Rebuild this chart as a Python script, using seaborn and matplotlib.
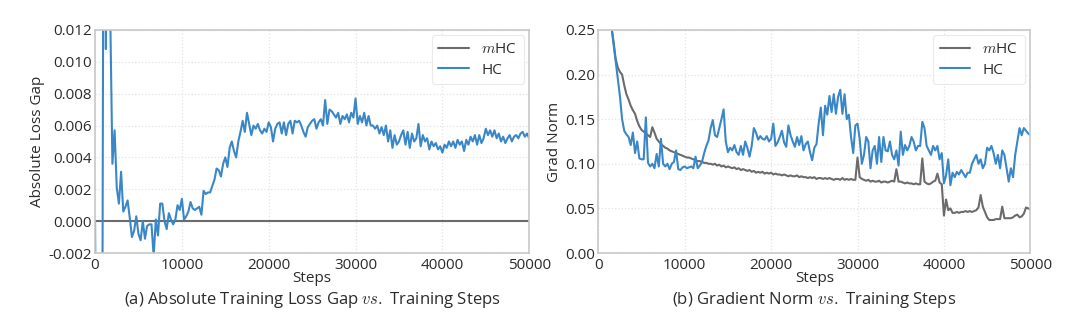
import numpy as np
import pandas as pd
import matplotlib
matplotlib.use("Agg")
import matplotlib.pyplot as plt
import seaborn as sns

# ---------------- data ----------------
# (a) absolute training loss gap, HC relative to mHC, logged every 250 steps from step 0
gap_start, gap_every = 0, 250
hc_gap = [
    0.0000, -0.0200, -0.0300, -0.0300, 0.0300, 0.0108, 0.0300, 0.0130,
    0.0036, 0.0057, 0.0021, 0.0011, 0.0031, 0.0006, 0.0009, 0.0013,
    0.0002, -0.0010, -0.0006, 0.0003, -0.0008, -0.0012, 0.0000, -0.0011,
    -0.0003, -0.0002, -0.0002, -0.0022, 0.0001, -0.0009, 0.0011, 0.0011,
    0.0000, -0.0005, 0.0005, 0.0001, -0.0002, 0.0001, 0.0010, 0.0007,
    0.0014, 0.0001, 0.0003, 0.0006, 0.0012, 0.0008, 0.0007, 0.0008,
    0.0009, 0.0004, 0.0019, 0.0017, 0.0018, 0.0018, 0.0022, 0.0026,
    0.0033, 0.0032, 0.0028, 0.0036, 0.0040, 0.0034, 0.0046, 0.0050,
    0.0044, 0.0040, 0.0050, 0.0056, 0.0063, 0.0056, 0.0068, 0.0061,
    0.0054, 0.0060, 0.0058, 0.0061, 0.0057, 0.0055, 0.0058, 0.0056,
    0.0062, 0.0059, 0.0050, 0.0058, 0.0061, 0.0062, 0.0055, 0.0062,
    0.0054, 0.0061, 0.0063, 0.0055, 0.0063, 0.0062, 0.0063, 0.0060,
    0.0056, 0.0053, 0.0059, 0.0061, 0.0063, 0.0064, 0.0058, 0.0062,
    0.0064, 0.0060, 0.0076, 0.0061, 0.0070, 0.0069, 0.0067, 0.0065,
    0.0068, 0.0061, 0.0066, 0.0064, 0.0067, 0.0062, 0.0068, 0.0065,
    0.0077, 0.0061, 0.0066, 0.0062, 0.0068, 0.0060, 0.0066, 0.0060,
    0.0060, 0.0058, 0.0060, 0.0055, 0.0059, 0.0054, 0.0060, 0.0050,
    0.0057, 0.0046, 0.0054, 0.0048, 0.0050, 0.0054, 0.0057, 0.0048,
    0.0056, 0.0046, 0.0055, 0.0050, 0.0052, 0.0061, 0.0047, 0.0054,
    0.0050, 0.0052, 0.0045, 0.0050, 0.0047, 0.0049, 0.0045, 0.0047,
    0.0043, 0.0048, 0.0046, 0.0050, 0.0047, 0.0050, 0.0046, 0.0051,
    0.0048, 0.0050, 0.0044, 0.0051, 0.0048, 0.0053, 0.0050, 0.0054,
    0.0048, 0.0054, 0.0049, 0.0052, 0.0058, 0.0054, 0.0057, 0.0053,
    0.0057, 0.0052, 0.0055, 0.0050, 0.0053, 0.0049, 0.0052, 0.0054,
    0.0050, 0.0053, 0.0054, 0.0052, 0.0055, 0.0056, 0.0053, 0.0055,
    0.0052,
]
# mHC is the reference: its gap to itself is zero
mhc_gap_steps = [0, 50000]
mhc_gap = [0.0, 0.0]

# (b) gradient norm, logged every 250 steps from step 1000
gn_start, gn_every = 1000, 250
hc_gn = [
    0.320, 0.280, 0.255, 0.235, 0.215, 0.195, 0.176, 0.150,
    0.137, 0.133, 0.130, 0.121, 0.135, 0.112, 0.125, 0.106,
    0.105, 0.105, 0.152, 0.101, 0.097, 0.100, 0.095, 0.111,
    0.097, 0.128, 0.100, 0.097, 0.100, 0.094, 0.100, 0.102,
    0.115, 0.094, 0.093, 0.096, 0.097, 0.095, 0.096, 0.097,
    0.095, 0.108, 0.095, 0.098, 0.102, 0.112, 0.120, 0.126,
    0.140, 0.149, 0.132, 0.130, 0.140, 0.150, 0.161, 0.125,
    0.113, 0.118, 0.115, 0.121, 0.113, 0.110, 0.120, 0.110,
    0.125, 0.118, 0.108, 0.120, 0.140, 0.135, 0.127, 0.131,
    0.128, 0.127, 0.131, 0.125, 0.128, 0.145, 0.120, 0.124,
    0.130, 0.137, 0.124, 0.119, 0.143, 0.132, 0.125, 0.119,
    0.130, 0.121, 0.131, 0.115, 0.122, 0.125, 0.113, 0.104,
    0.118, 0.122, 0.145, 0.163, 0.132, 0.165, 0.155, 0.176,
    0.158, 0.178, 0.156, 0.175, 0.183, 0.156, 0.178, 0.150,
    0.155, 0.130, 0.112, 0.143, 0.145, 0.128, 0.100, 0.110,
    0.130, 0.125, 0.095, 0.115, 0.120, 0.100, 0.130, 0.102,
    0.130, 0.115, 0.114, 0.125, 0.110, 0.105, 0.115, 0.098,
    0.136, 0.110, 0.121, 0.115, 0.120, 0.130, 0.125, 0.115,
    0.120, 0.120, 0.147, 0.140, 0.120, 0.115, 0.110, 0.120,
    0.115, 0.120, 0.105, 0.112, 0.078, 0.087, 0.105, 0.076,
    0.090, 0.085, 0.091, 0.088, 0.093, 0.089, 0.085, 0.090,
    0.090, 0.100, 0.105, 0.110, 0.100, 0.105, 0.095, 0.100,
    0.118, 0.115, 0.120, 0.112, 0.100, 0.110, 0.095, 0.115,
    0.110, 0.095, 0.080, 0.095, 0.085, 0.110, 0.125, 0.140,
    0.132, 0.140, 0.137, 0.134, 0.132,
]
mhc_gn = [
    0.320, 0.280, 0.255, 0.238, 0.218, 0.208, 0.203, 0.200,
    0.188, 0.178, 0.172, 0.165, 0.160, 0.156, 0.148, 0.142,
    0.138, 0.136, 0.134, 0.132, 0.130, 0.141, 0.135, 0.128,
    0.125, 0.122, 0.120, 0.118, 0.117, 0.115, 0.114, 0.113,
    0.112, 0.111, 0.110, 0.109, 0.108, 0.107, 0.107, 0.106,
    0.105, 0.104, 0.103, 0.103, 0.102, 0.101, 0.101, 0.100,
    0.100, 0.099, 0.100, 0.098, 0.099, 0.097, 0.098, 0.096,
    0.097, 0.096, 0.095, 0.096, 0.094, 0.095, 0.093, 0.094,
    0.093, 0.092, 0.093, 0.091, 0.092, 0.090, 0.091, 0.090,
    0.091, 0.089, 0.090, 0.089, 0.090, 0.088, 0.089, 0.088,
    0.088, 0.087, 0.088, 0.087, 0.086, 0.087, 0.086, 0.086,
    0.087, 0.085, 0.086, 0.085, 0.085, 0.084, 0.085, 0.084,
    0.085, 0.083, 0.084, 0.084, 0.083, 0.084, 0.083, 0.084,
    0.083, 0.082, 0.083, 0.083, 0.082, 0.084, 0.082, 0.083,
    0.082, 0.083, 0.082, 0.082, 0.107, 0.085, 0.083, 0.082,
    0.081, 0.082, 0.080, 0.081, 0.080, 0.080, 0.081, 0.079,
    0.080, 0.080, 0.079, 0.080, 0.081, 0.080, 0.094, 0.080,
    0.080, 0.079, 0.078, 0.079, 0.078, 0.078, 0.077, 0.078,
    0.077, 0.077, 0.106, 0.080, 0.078, 0.077, 0.078, 0.080,
    0.081, 0.089, 0.079, 0.077, 0.042, 0.060, 0.048, 0.050,
    0.045, 0.045, 0.046, 0.045, 0.046, 0.046, 0.047, 0.046,
    0.047, 0.046, 0.047, 0.048, 0.051, 0.065, 0.052, 0.046,
    0.040, 0.037, 0.037, 0.037, 0.038, 0.038, 0.038, 0.052,
    0.039, 0.039, 0.039, 0.039, 0.040, 0.042, 0.043, 0.040,
    0.041, 0.044, 0.051, 0.050, 0.049,
]

labels = ["$m$HC", "HC"]
captions = ["(a) Absolute Training Loss Gap $vs.$ Training Steps",
            "(b) Gradient Norm $vs.$ Training Steps"]
ylabels = ["Absolute Loss Gap", "Grad Norm"]
xticks = [0, 10000, 20000, 30000, 40000, 50000]
yticks_a = [-0.002, 0.000, 0.002, 0.004, 0.006, 0.008, 0.010, 0.012]
yticks_b = [0.00, 0.05, 0.10, 0.15, 0.20, 0.25]

# ---------------- tables ----------------
gap_steps = gap_start + gap_every * np.arange(len(hc_gap))
gn_steps = gn_start + gn_every * np.arange(len(hc_gn))
df_a = pd.concat([
    pd.DataFrame({"Steps": mhc_gap_steps, "value": mhc_gap, "model": labels[0]}),
    pd.DataFrame({"Steps": gap_steps, "value": hc_gap, "model": labels[1]}),
])
df_b = pd.concat([
    pd.DataFrame({"Steps": gn_steps, "value": mhc_gn, "model": labels[0]}),
    pd.DataFrame({"Steps": gn_steps, "value": hc_gn, "model": labels[1]}),
])

# ---------------- style ----------------
sns.set_theme(style="whitegrid")
plt.rcParams["font.family"] = ["Open Sans", "DejaVu Sans"]
plt.rcParams["mathtext.fontset"] = "cm"
plt.rcParams["axes.unicode_minus"] = False

palette = {labels[0]: "#6b6b6b", labels[1]: "#3a87c8"}
fs = 11
tc = "#2b2b2b"

fig = plt.figure(figsize=(10.8, 3.29), dpi=100)
ax_a = fig.add_axes([0.088, 0.231, 0.402, 0.678])
ax_b = fig.add_axes([0.554, 0.231, 0.400, 0.678])

panels = [
    (ax_a, df_a, yticks_a, (-0.002, 0.012), "{:.3f}"),
    (ax_b, df_b, yticks_b, (0.0, 0.25), "{:.2f}"),
]
for i, (ax, df, yt, ylim, fmt) in enumerate(panels):
    sns.lineplot(data=df, x="Steps", y="value", hue="model", palette=palette,
                 hue_order=labels, linewidth=1.5, ax=ax, legend=True,
                 estimator=None, sort=False)
    ax.set_xlim(0, 50000)
    ax.set_ylim(*ylim)
    ax.set_xticks(xticks)
    ax.set_xticklabels([str(t) for t in xticks], fontsize=fs, color=tc)
    ax.set_yticks(yt)
    ax.set_yticklabels([fmt.format(t) for t in yt], fontsize=fs, color=tc)
    ax.tick_params(axis="both", length=0)
    ax.tick_params(axis="x", pad=3.5)
    ax.tick_params(axis="y", pad=2.5)
    ax.set_xlabel("Steps", fontsize=fs, color=tc, labelpad=-1.5)
    ax.set_ylabel(ylabels[i], fontsize=fs, color=tc, labelpad=2)
    ax.grid(True, color="#e3e3e3", linestyle=":", linewidth=0.9)
    for s in ax.spines.values():
        s.set_color("#c8c8c8")
        s.set_linewidth(1.2)
    leg = ax.legend(loc="upper right", fontsize=fs, frameon=True,
                    handlelength=2.0, borderaxespad=0.35, labelspacing=0.35,
                    handletextpad=0.8, borderpad=0.45)
    leg.get_frame().set_edgecolor("#e5e5e5")
    leg.get_frame().set_linewidth(0.8)
    for t in leg.get_texts():
        t.set_color(tc)
    bb = ax.get_position()
    fig.text((bb.x0 + bb.x1) / 2, 0.088, captions[i], ha="center", va="center",
             fontsize=fs + 1, color=tc)

fig.savefig("out.png", dpi=100, facecolor="white")
